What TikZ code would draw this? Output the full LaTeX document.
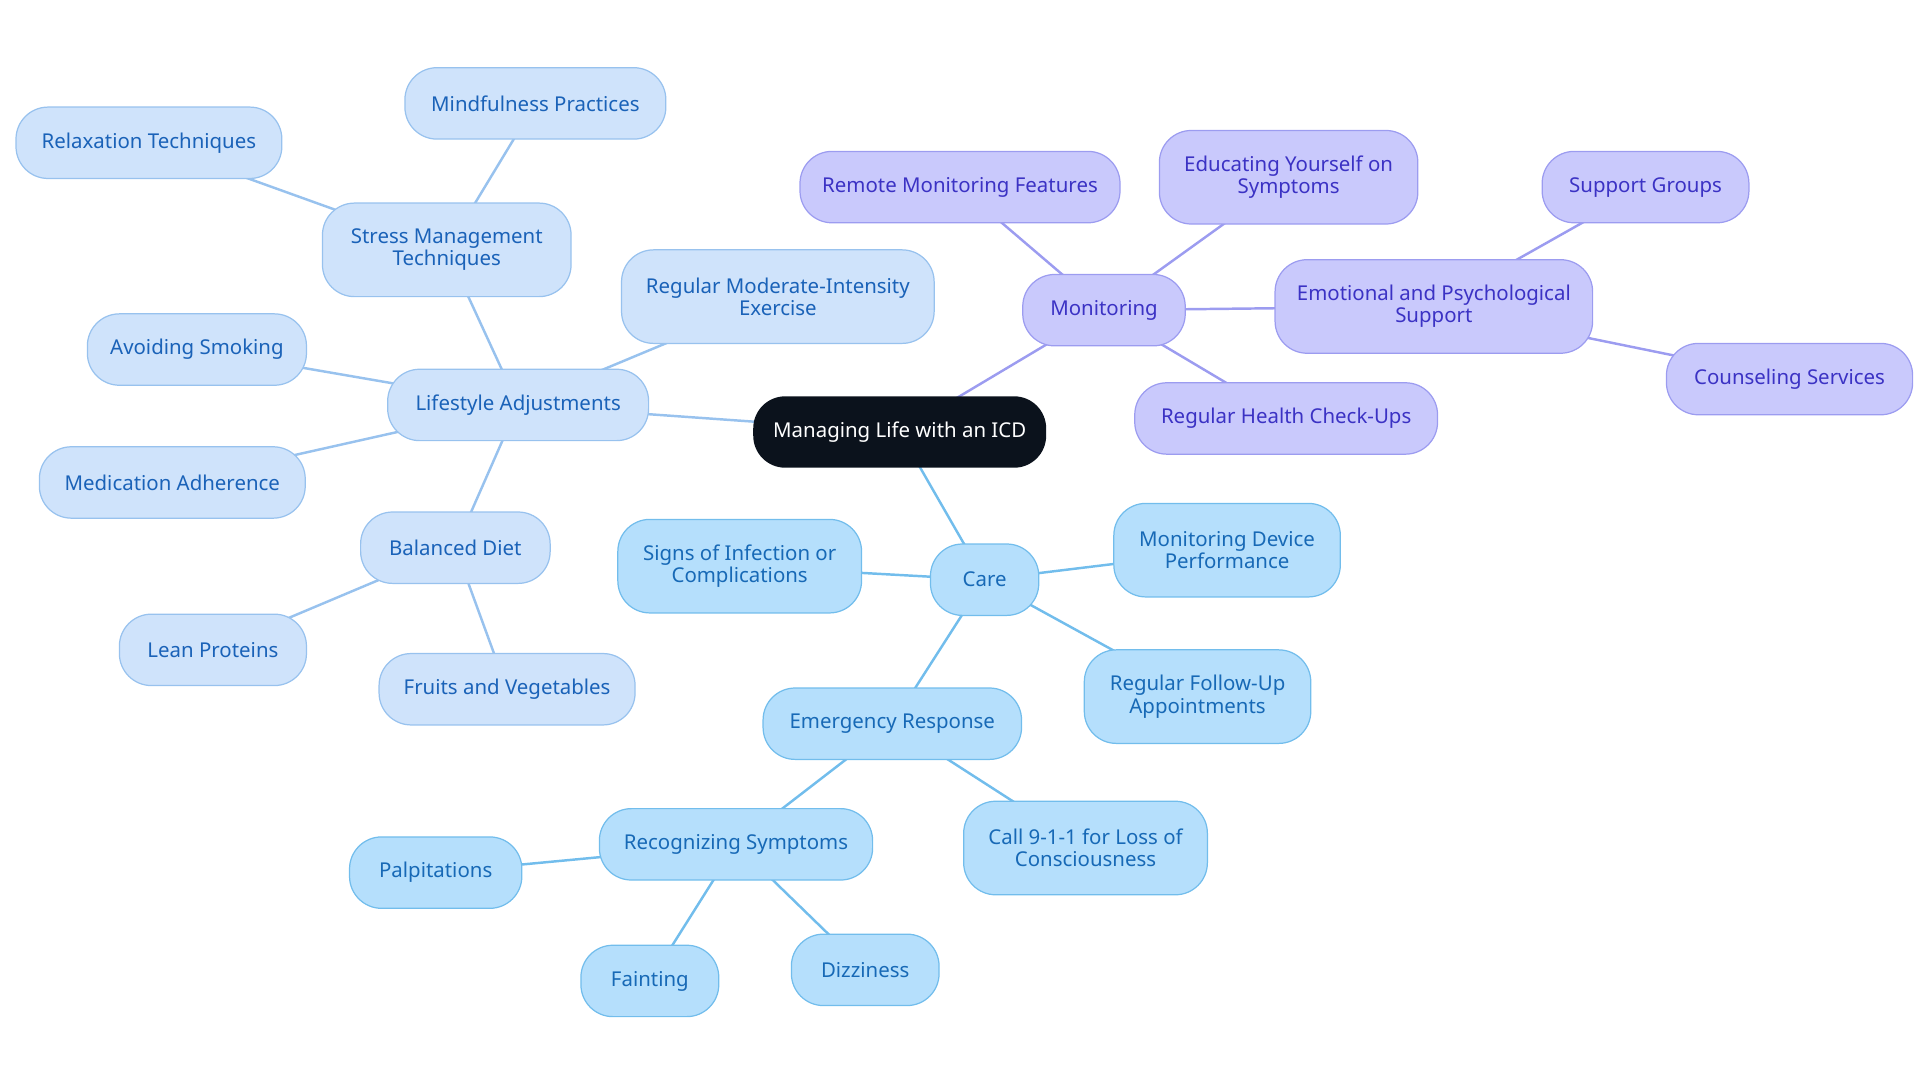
\documentclass[tikz,border=0pt]{standalone}
\usepackage{fontspec}
\setmainfont{Noto Sans}
\usetikzlibrary{backgrounds}
\definecolor{lsF}{HTML}{CFE3FB}\definecolor{lsD}{HTML}{98C2EE}\definecolor{lsT}{HTML}{1A62B8}
\definecolor{caF}{HTML}{B5DFFC}\definecolor{caD}{HTML}{72BDEC}\definecolor{caT}{HTML}{1769B6}
\definecolor{moF}{HTML}{C9C9FC}\definecolor{moD}{HTML}{9C9CF0}\definecolor{moT}{HTML}{3B32C4}
\definecolor{rootF}{HTML}{0B121C}
\tikzset{
 base/.style={rounded corners=13pt,inner sep=0pt,align=center,font=\fontsize{8.3}{9}\selectfont,line width=0.5pt},
 ls/.style={base,fill=lsF,draw=lsD,text=lsT},
 ca/.style={base,fill=caF,draw=caD,text=caT},
 mo/.style={base,fill=moF,draw=moD,text=moT},
 sz/.style 2 args={minimum width=#1*0.5pt,minimum height=#2*0.5pt},
 els/.style={draw=lsD,line width=1pt},
 eca/.style={draw=caD,line width=1pt},
 emo/.style={draw=moD,line width=1pt},
}
\begin{document}
\begin{tikzpicture}[x=0.5pt,y=-0.5pt]
\useasboundingbox (0,0) rectangle (1560,880);
\node[base,fill=rootF,text=white,sz={238}{58}] (root) at (731,351) {Managing Life with an ICD};
\node[ls,sz={212}{58}] (life) at (421,329) {Lifestyle Adjustments};
\node[ls,sz={202}{76}] (stress) at (363,203) {Stress Management\\Techniques};
\node[ls,sz={212}{58}] (mind) at (435,84) {Mindfulness Practices};
\node[ls,sz={216}{58}] (relax) at (121,116) {Relaxation Techniques};
\node[ls,sz={254}{76}] (exer) at (632,241) {Regular Moderate-Intensity\\Exercise};
\node[ls,sz={178}{58}] (smok) at (160,284) {Avoiding Smoking};
\node[ls,sz={216}{58}] (med) at (140,392) {Medication Adherence};
\node[ls,sz={154}{58}] (diet) at (370,445) {Balanced Diet};
\node[ls,sz={152}{58}] (lean) at (173,528) {Lean Proteins};
\node[ls,sz={208}{58}] (fruit) at (412,560) {Fruits and Vegetables};
\node[mo,sz={132}{58}] (mon) at (897,252) {Monitoring};
\node[mo,sz={260}{58}] (remote) at (780,152) {Remote Monitoring Features};
\node[mo,sz={210}{76}] (edu) at (1047,144) {Educating Yourself on\\Symptoms};
\node[mo,sz={258}{76}] (emo) at (1165,249) {Emotional and Psychological\\Support};
\node[mo,sz={168}{58}] (sup) at (1337,152) {Support Groups};
\node[mo,sz={200}{58}] (coun) at (1454,308) {Counseling Services};
\node[mo,sz={246}{58}] (check) at (1045,340) {Regular Health Check-Ups};
\node[ca,sz={88}{58}] (care) at (800,471) {Care};
\node[ca,sz={198}{76}] (signs) at (601,460) {Signs of Infection or\\Complications};
\node[ca,sz={184}{76}] (dev) at (997,447) {Monitoring Device\\Performance};
\node[ca,sz={184}{76}] (follow) at (973,566) {Regular Follow-Up\\Appointments};
\node[ca,sz={210}{58}] (emer) at (725,588) {Emergency Response};
\node[ca,sz={198}{76}] (call) at (882,689) {Call 9-1-1 for Loss of\\Consciousness};
\node[ca,sz={222}{58}] (rec) at (598,686) {Recognizing Symptoms};
\node[ca,sz={140}{58}] (palp) at (354,709) {Palpitations};
\node[ca,sz={112}{58}] (faint) at (528,797) {Fainting};
\node[ca,sz={120}{58}] (dizz) at (703,788) {Dizziness};
\begin{scope}[on background layer]
\draw[els] (root.center) -- (life.center);
\foreach \n in {stress,exer,smok,med,diet} \draw[els] (life.center) -- (\n.center);
\foreach \n in {mind,relax} \draw[els] (stress.center) -- (\n.center);
\foreach \n in {lean,fruit} \draw[els] (diet.center) -- (\n.center);
\draw[emo] (root.center) -- (mon.center);
\foreach \n in {remote,edu,emo,check} \draw[emo] (mon.center) -- (\n.center);
\foreach \n in {sup,coun} \draw[emo] (emo.center) -- (\n.center);
\draw[eca] (root.center) -- (care.center);
\foreach \n in {signs,dev,follow,emer} \draw[eca] (care.center) -- (\n.center);
\foreach \n in {call,rec} \draw[eca] (emer.center) -- (\n.center);
\foreach \n in {palp,faint,dizz} \draw[eca] (rec.center) -- (\n.center);
\end{scope}
\end{tikzpicture}
\end{document}
